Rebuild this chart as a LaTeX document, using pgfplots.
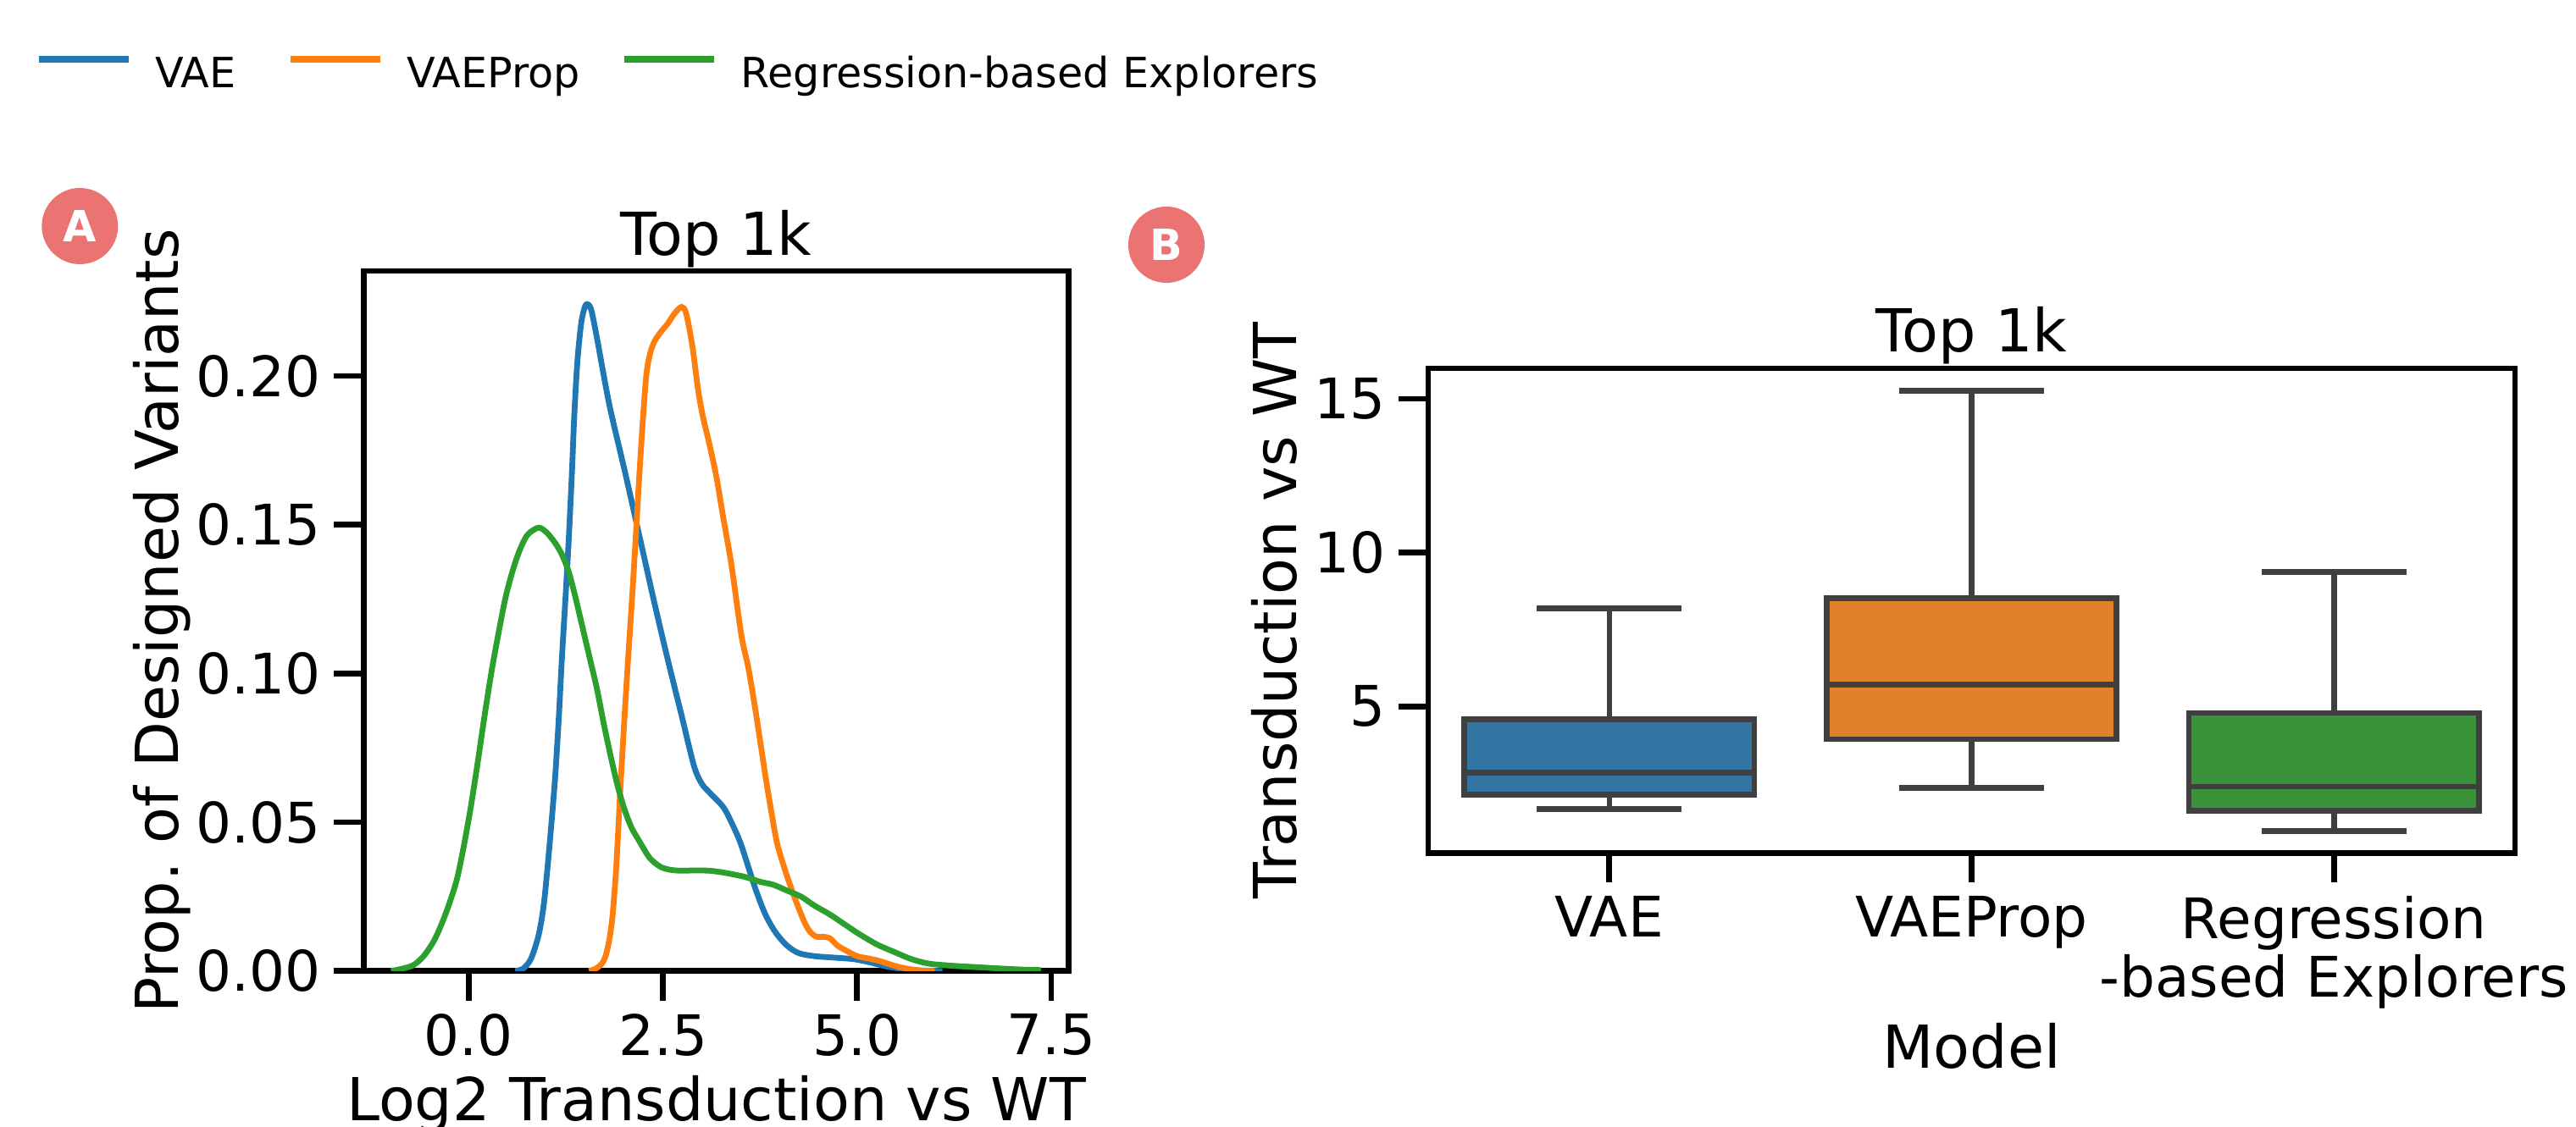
\documentclass[border=0pt]{standalone}
\usepackage{fontspec}
\setmainfont{DejaVu Sans}
\usepackage{pgfplots}
\pgfplotsset{compat=1.18}
\usepgfplotslibrary{statistics}
\definecolor{cA}{HTML}{1F77B4}
\definecolor{cB}{HTML}{FF7F0E}
\definecolor{cC}{HTML}{2CA02C}
\definecolor{bA}{HTML}{3274A1}
\definecolor{bB}{HTML}{E1812C}
\definecolor{bC}{HTML}{3A923A}
\definecolor{edge}{HTML}{3F3F3F}
\definecolor{badge}{HTML}{EB7371}
\newcommand\tickfont{\fontsize{16.5}{17.4}\selectfont}
\newcommand\labfont{\fontsize{17.5}{21}\selectfont}
\newcommand\legfont{\fontsize{12.3}{14.8}\selectfont}
\pgfplotsset{common/.style={
  scale only axis,
  axis line style={line width=1.7pt, black},
  tick align=outside, major tick length=8.75pt,
  tick style={line width=1.7pt, black},
  xtick pos=left, ytick pos=left,
  /pgf/number format/assume math mode=true,
  tick label style={font=\tickfont, inner sep=0pt},
  xticklabel style={yshift=-3.7pt},
  yticklabel style={xshift=-3.7pt},
  label style={font=\labfont},
  every axis title/.style={font=\labfont, anchor=base},
}}
\begin{document}
\begin{tikzpicture}
\begin{axis}[common,
  at={(107.33pt,-80pt)}, anchor=north west,
  width=208.1pt, height=206.68pt,
  xmin=-1.352, xmax=7.726, ymin=0, ymax=0.2353,
  xtick={0,2.5,5,7.5}, ytick={0,0.05,0.1,0.15,0.2},
  xticklabel style={/pgf/number format/fixed, /pgf/number format/fixed zerofill, /pgf/number format/precision=1},
  yticklabel style={/pgf/number format/fixed, /pgf/number format/fixed zerofill, /pgf/number format/precision=2},
  title={Top 1k}, title style={at={(axis description cs:0.5,1.023)}},
  xlabel={Log2 Transduction vs WT},
  xlabel style={at={(axis description cs:0.5,-0.2133)}, anchor=base},
  ylabel={Prop.\ of Designed Variants},
  ylabel style={at={(axis description cs:-0.2626,0.5)}, anchor=base},
  legend columns=3,
  legend style={at={(axis description cs:-0.4665,1.2805)}, anchor=west, draw=none, fill=none,
    inner sep=0pt, font=\legfont, nodes={inner sep=0pt},
    /tikz/every odd column/.append style={column sep=6.9pt}},
  legend cell align=left,
  legend image code/.code={\draw[#1, line width=2pt] (0pt,4.48pt) -- (26.5pt,4.48pt);},
]
\addplot[cA, line width=1.7pt, smooth, tension=0.5] coordinates {
(0.60,0) (0.70,0.0008) (0.80,0.004) (0.90,0.012) (0.97,0.023) (1.04,0.042) (1.11,0.064)
(1.16,0.085) (1.20,0.105) (1.25,0.127) (1.29,0.146) (1.33,0.168) (1.36,0.187) (1.40,0.205)
(1.45,0.218) (1.50,0.2235) (1.54,0.224) (1.58,0.222) (1.65,0.213) (1.74,0.200) (1.83,0.188)
(2.01,0.168) (2.20,0.146) (2.38,0.125) (2.56,0.105) (2.74,0.086) (2.90,0.069) (3.00,0.063)
(3.10,0.060) (3.28,0.055) (3.40,0.049) (3.50,0.043) (3.60,0.035) (3.70,0.027) (3.82,0.019)
(3.95,0.013) (4.10,0.0085) (4.25,0.006) (4.45,0.005) (4.70,0.0045) (4.95,0.004) (5.15,0.003)
(5.35,0.0017) (5.55,0.0008) (5.80,0.0002) (6.10,0)
};
\addlegendentry{\makebox[38.8pt][l]{VAE}}
\addplot[cB, line width=1.7pt, smooth, tension=0.5] coordinates {
(1.55,0) (1.65,0.001) (1.74,0.0035) (1.80,0.009) (1.85,0.018) (1.90,0.035) (1.95,0.060)
(2.01,0.087) (2.06,0.108) (2.11,0.128) (2.16,0.150) (2.20,0.168) (2.25,0.188) (2.29,0.201)
(2.34,0.208) (2.40,0.212) (2.48,0.215) (2.56,0.2175) (2.65,0.221) (2.74,0.2232) (2.80,0.221)
(2.88,0.210) (2.95,0.196) (3.01,0.187) (3.10,0.177) (3.19,0.166) (3.28,0.152) (3.38,0.137)
(3.51,0.113) (3.60,0.102) (3.69,0.088) (3.76,0.076) (3.83,0.064) (3.90,0.053) (3.97,0.043)
(4.06,0.035) (4.15,0.028) (4.25,0.021) (4.33,0.016) (4.40,0.013) (4.48,0.0115) (4.56,0.0115)
(4.65,0.011) (4.75,0.0085) (4.85,0.007) (5.00,0.005) (5.15,0.0042) (5.30,0.0033) (5.45,0.002)
(5.60,0.001) (5.80,0.0002) (6.0,0)
};
\addlegendentry{\makebox[63.2pt][l]{VAEProp}}
\addplot[cC, line width=1.7pt, smooth, tension=0.5] coordinates {
(-1.0,0) (-0.85,0.0008) (-0.71,0.002) (-0.58,0.005) (-0.44,0.0105) (-0.30,0.019) (-0.16,0.030)
(-0.07,0.041) (0.02,0.054) (0.11,0.069) (0.20,0.085) (0.29,0.100) (0.38,0.113) (0.47,0.125)
(0.56,0.134) (0.65,0.141) (0.74,0.146) (0.82,0.148) (0.91,0.149) (1.00,0.1475) (1.11,0.144)
(1.20,0.140) (1.29,0.134) (1.38,0.125) (1.47,0.115) (1.56,0.105) (1.65,0.095) (1.74,0.083)
(1.83,0.072) (1.92,0.062) (2.01,0.054) (2.10,0.048) (2.20,0.0435) (2.33,0.038) (2.47,0.035)
(2.60,0.034) (2.74,0.0337) (2.90,0.0338) (3.10,0.0337) (3.30,0.033) (3.56,0.0316) (3.75,0.030)
(3.92,0.029) (4.10,0.027) (4.28,0.025) (4.45,0.022) (4.65,0.019) (4.85,0.0155) (5.01,0.0127)
(5.25,0.009) (5.46,0.0066) (5.70,0.004) (5.92,0.0025) (6.20,0.0018) (6.46,0.0014) (6.80,0.0009)
(7.10,0.0005) (7.37,0.0003)
};
\addlegendentry{Regression-based Explorers}
\end{axis}

\begin{axis}[common,
  at={(421.5pt,-108.75pt)}, anchor=north west,
  width=320.75pt, height=143.08pt,
  xmin=-0.5, xmax=2.5, ymin=0.23, ymax=15.99,
  xtick={0,1,2}, xticklabels={VAE,VAEProp,{Regression\\-based Explorers}},
  xticklabel style={align=center},
  ytick={5,10,15},
  boxplot/draw direction=y,
  title={Top 1k}, title style={at={(axis description cs:0.5,1.034)}},
  xlabel={Model},
  xlabel style={at={(axis description cs:0.5,-0.444)}, anchor=base},
  ylabel={Transduction vs WT},
  ylabel style={at={(axis description cs:-0.121,0.5)}, anchor=base},
]
\addplot[draw=edge, line width=1.67pt, boxplot/every box/.style={fill=bA},
  boxplot prepared={draw position=0, lower whisker=1.66, lower quartile=2.13, median=2.85,
  upper quartile=4.58, upper whisker=8.18, box extend=0.8, whisker extend=0.4}] coordinates {};
\addplot[draw=edge, line width=1.67pt, boxplot/every box/.style={fill=bB},
  boxplot prepared={draw position=1, lower whisker=2.35, lower quartile=3.93, median=5.71,
  upper quartile=8.52, upper whisker=15.26, box extend=0.8, whisker extend=0.4}] coordinates {};
\addplot[draw=edge, line width=1.67pt, boxplot/every box/.style={fill=bC},
  boxplot prepared={draw position=2, lower whisker=0.95, lower quartile=1.60, median=2.39,
  upper quartile=4.78, upper whisker=9.37, box extend=0.8, whisker extend=0.4}] coordinates {};
\end{axis}

\node[circle, fill=badge, minimum size=22.5pt, inner sep=0pt, text=white,
  font=\bfseries\fontsize{12.7}{12.7}\selectfont] at (23.58pt,-66.75pt) {A};
\node[circle, fill=badge, minimum size=22.5pt, inner sep=0pt, text=white,
  font=\bfseries\fontsize{12.7}{12.7}\selectfont] at (344.25pt,-72.25pt) {B};

\pgfresetboundingbox
\path[use as bounding box] (0pt,0pt) rectangle (760.25pt,-332.5pt);
\end{tikzpicture}
\end{document}
